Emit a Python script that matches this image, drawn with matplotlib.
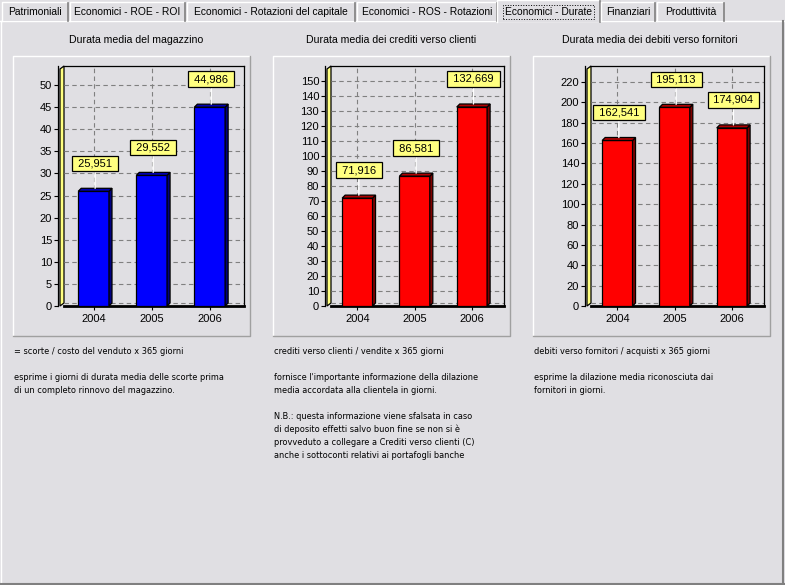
import matplotlib
matplotlib.use('Agg')
import matplotlib.pyplot as plt
from matplotlib.patches import Polygon, Rectangle

BG = '#E0DFE3'
W, H = 785, 585

# data
years = ['2004', '2005', '2006']
magazzino = [25.951, 29.552, 44.986]
crediti = [71.916, 86.581, 132.669]
debiti = [162.541, 195.113, 174.904]

titles = ['Durata media del magazzino',
          'Durata media dei crediti verso clienti',
          'Durata media dei debiti verso fornitori']
series = [magazzino, crediti, debiti]
ymax = [54.3, 160, 235.7]
ystep = [5, 10, 20]
front = ['#0000FF', '#FF0000', '#FF0000']
side = ['#000080', '#800000', '#800000']
top = ['#0000B0', '#B00000', '#B00000']

tabs = ['Patrimoniali', 'Economici - ROE - ROI', 'Economici - Rotazioni del capitale',
        'Economici - ROS - Rotazioni', 'Economici - Durate', 'Finanziari', 'Produttività']
selected_tab = 4

notes = [
    ['= scorte / costo del venduto x 365 giorni', '',
     'esprime i giorni di durata media delle scorte prima',
     'di un completo rinnovo del magazzino.'],
    ['crediti verso clienti / vendite x 365 giorni', '',
     "fornisce l'importante informazione della dilazione",
     'media accordata alla clientela in giorni.', '',
     'N.B.: questa informazione viene sfalsata in caso',
     'di deposito effetti salvo buon fine se non si è',
     'provveduto a collegare a Crediti verso clienti (C)',
     'anche i sottoconti relativi ai portafogli banche'],
    ['debiti verso fornitori / acquisti x 365 giorni', '',
     'esprime la dilazione media riconosciuta dai',
     'fornitori in giorni.'],
]

# layout (pixels)
frame_x = [13, 273, 533]
title_x = [136, 391, 650]
ax_left = [64, 331, 591]
ax_w = [180, 173, 173]
xlims = [(-0.51, 2.59), (-0.46, 2.56), (-0.46, 2.56)]
ax_top, ax_bot = 66, 306
depth = 3
wall = 4

plt.rcParams['font.family'] = ['Liberation Sans', 'DejaVu Sans']
fig = plt.figure(figsize=(W / 100, H / 100), dpi=100, facecolor=BG)
bg = fig.add_axes([0, 0, 1, 1])
bg.set_xlim(0, W)
bg.set_ylim(H, 0)
bg.axis('off')
bg.set_facecolor(BG)

# window panel
bg.plot([0, W], [21, 21], color='white', lw=1)
bg.plot([0.5, 0.5], [21, H], color='white', lw=1)
bg.plot([W - 2, W - 2], [21, H], color='#808080', lw=1.5)
bg.plot([0, W], [H - 1.5, H - 1.5], color='#808080', lw=1.5)

# tabs
tab_x = [(2, 68), (70, 185), (187, 355), (357, 497), (497, 600), (601, 655), (657, 724)]
for i, (name, (a, b)) in enumerate(zip(tabs, tab_x)):
    t0 = 0 if i == selected_tab else 2
    t1 = 22 if i == selected_tab else 20.5
    bg.add_patch(Rectangle((a, t0), b - a, t1 - t0, facecolor=BG, edgecolor='none', zorder=2))
    bg.plot([a, a, b - 1], [t1, t0, t0], color='white', lw=1, zorder=3)
    bg.plot([b, b], [t0 + 1, t1], color='#808080', lw=1.2, zorder=3)
    bg.text((a + b) / 2, (t0 + t1) / 2 + 1, name, ha='center', va='center',
            fontsize=7.4, zorder=4,
            bbox=dict(boxstyle='square,pad=0.15', fc='none', ec='black', ls=':', lw=0.7)
            if i == selected_tab else None)

# frames, titles, notes
for k in range(3):
    x0 = frame_x[k]
    x1 = x0 + 237
    bg.plot([x0, x0, x1], [336, 56, 56], color='white', lw=1)
    bg.plot([x0, x1, x1], [336, 336, 56], color='#A0A0A0', lw=1)
    bg.text(title_x[k], 40, titles[k], ha='center', va='center', fontsize=7.6)
    # yellow side wall
    lx = ax_left[k]
    bg.add_patch(Polygon([(lx - wall, ax_bot), (lx, ax_bot - depth), (lx, ax_top),
                          (lx - wall, ax_top + depth)], closed=True,
                         facecolor='#FFFF80', edgecolor='black', lw=0.9, zorder=5))
    for j, line in enumerate(notes[k]):
        bg.text(x0 + 1, 352 + 12.9 * j, line, ha='left', va='center', fontsize=6.6,
                family=['DejaVu Sans'], fontstretch='condensed')

# charts
for k in range(3):
    ax = fig.add_axes([ax_left[k] / W, 1 - ax_bot / H, ax_w[k] / W, (ax_bot - ax_top) / H])
    ax.set_facecolor('none')
    ax.set_xlim(*xlims[k])
    ax.set_ylim(0, ymax[k])
    ppx = ax_w[k] / (xlims[k][1] - xlims[k][0])
    ppy = (ax_bot - ax_top) / ymax[k]
    dx, dy = depth / ppx, depth / ppy
    bw = 0.53
    xs = list(range(len(years)))
    vals = series[k]

    ax.bar(xs, vals, width=bw, color=front[k], edgecolor='black', lw=0.9, zorder=3)
    for x, v in zip(xs, vals):
        r = x + bw / 2
        l = x - bw / 2
        ax.add_patch(Polygon([(r, 0), (r + dx, dy), (r + dx, v + dy), (r, v)], closed=True,
                             facecolor=side[k], edgecolor='black', lw=0.9, zorder=3))
        ax.add_patch(Polygon([(l, v), (l + dx, v + dy), (r + dx, v + dy), (r, v)], closed=True,
                             facecolor=top[k], edgecolor='black', lw=0.9, zorder=3))
        label = ' ' + f'{v:.3f}'.replace('.', ',') + ' '
        ax.annotate(label, xy=(x + dx / 2, v + dy), xytext=(0, 20), textcoords='offset pixels',
                    ha='center', va='bottom', fontsize=8, zorder=6,
                    bbox=dict(boxstyle='square,pad=0.25', fc='#FFFF80', ec='black', lw=0.9),
                    arrowprops=dict(arrowstyle='-', color='white', lw=1, shrinkA=0, shrinkB=0))

    ax.axhline(dy, color='#808080', ls=(0, (4, 3)), lw=0.8, zorder=2)
    ax.set_yticks(range(0, int(ymax[k] - 1) + 1, ystep[k]))
    ax.set_xticks(xs, years)
    ax.grid(True, color='#808080', ls=(0, (4, 3)), lw=0.8)
    ax.set_axisbelow(True)
    for s in ax.spines.values():
        s.set_color('black')
        s.set_linewidth(0.9)
    ax.spines['bottom'].set_linewidth(2)
    ax.spines['left'].set_position(('outward', wall))
    ax.tick_params(axis='y', length=3, width=0.8, pad=1.5, labelsize=8)
    ax.tick_params(axis='x', length=3, width=0.8, pad=3, labelsize=8)

fig.savefig('out.png', dpi=100, facecolor=BG)
